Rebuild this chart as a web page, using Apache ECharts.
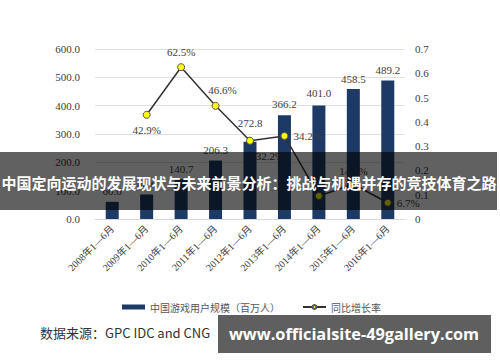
<!DOCTYPE html>
<html>
<head>
<meta charset="utf-8">
<script src="https://cdn.jsdelivr.net/npm/echarts@6/dist/echarts.min.js"></script>
<style>
html,body{margin:0;padding:0;background:#fff;}
#c{width:500px;height:362px;}
</style>
</head>
<body>
<div id="c"></div>
<script>
var categories = ['2008年1—6月','2009年1—6月','2010年1—6月','2011年1—6月','2012年1—6月','2013年1—6月','2014年1—6月','2015年1—6月','2016年1—6月'];
var users = [60.6, 86.6, 140.7, 206.3, 272.8, 366.2, 401.0, 458.5, 489.2];
var growth = [null, 0.429, 0.625, 0.466, 0.322, 0.342, 0.095, 0.143, 0.067];
var growthLabels = ['', '42.9%', '62.5%', '46.6%', '32.2%', '34.2%', '9.5%', '14.3%', '6.7%'];
var leftTicks = [0, 100, 200, 300, 400, 500, 600];
var rightTicks = [0, 0.1, 0.2, 0.3, 0.4, 0.5, 0.6, 0.7];
var seriesNames = ['中国游戏用户规模（百万人）', '同比增长率'];
var bannerTitle = '中国定向运动的发展现状与未来前景分析：挑战与机遇并存的竞技体育之路';
var sourceText = '数据来源：GPC IDC and CNG';
var watermark = 'www.officialsite-49gallery.com';

var serif = '"Liberation Serif","Noto Sans CJK SC",serif';
var labelPos = [
  null,
  {position:'bottom', distance:6},
  {position:'top', distance:6},
  {position:'top', distance:6, offset:[7,0]},
  {position:'bottom', distance:6, offset:[20,0]},
  {position:'right', distance:5},
  {position:'top', distance:4, offset:[10,0]},
  {position:'top', distance:4},
  {position:'right', distance:5}
];
var barLabelDist = [5, 5, 5, 5, 13, 6, 7, 5, 5];
var lineData = growth.map(function(v,i){
  if (v === null) return {value: null};
  var lp = labelPos[i];
  return {value: v, label: Object.assign({show:true, formatter: growthLabels[i]}, lp)};
});
var barData = users.map(function(v,i){
  return {value: v, label: {distance: barLabelDist[i]}};
});

var chart = echarts.init(document.getElementById('c'), null, {renderer:'svg'});
chart.setOption({
  animation:false,
  grid:{left:95, right:95, top:49, bottom:143},
  legend:{
    left:117, top:297,
    itemWidth:23, itemHeight:5, itemGap:22,
    textStyle:{fontSize:10, color:'#555', fontFamily:'"Noto Sans CJK SC",sans-serif'},
    data:[{name:seriesNames[0], icon:'rect'}, {name:seriesNames[1]}]
  },
  xAxis:{
    type:'category', data:categories,
    axisLine:{lineStyle:{color:'#d9d9d9'}},
    axisTick:{show:false},
    axisLabel:{rotate:45, fontSize:10, color:'#404040', fontFamily:serif, margin:8, interval:0}
  },
  yAxis:[
    {type:'value', min:0, max:600, interval:100,
     axisLine:{show:false}, axisTick:{show:false},
     splitLine:{lineStyle:{color:'#e0e0e0'}},
     axisLabel:{fontSize:11, color:'#404040', fontFamily:serif, margin:15,
       formatter:function(v){return v.toFixed(1);}}},
    {type:'value', min:0, max:0.7, interval:0.1,
     axisLine:{show:false}, axisTick:{show:false}, splitLine:{show:false},
     axisLabel:{fontSize:11, color:'#404040', fontFamily:serif, margin:10,
       formatter:function(v){return v===0?'0':v.toFixed(1);}}}
  ],
  series:[
    {name:seriesNames[0], type:'bar', data:barData, barWidth:13,
     itemStyle:{color:'#1d3a66'},
     label:{show:true, position:'top', distance:5, fontSize:11, color:'#404040', fontFamily:serif,
       formatter:function(p){return p.value.toFixed(1);}}},
    {name:seriesNames[1], type:'line', yAxisIndex:1, data:lineData,
     symbol:'circle', symbolSize:7, connectNulls:false,
     lineStyle:{color:'#333', width:1.5},
     itemStyle:{color:'#ffff00', borderColor:'#555', borderWidth:1},
     label:{fontSize:11, color:'#404040', fontFamily:serif}}
  ],
  graphic:[
    {type:'rect', z:100, shape:{x:0, y:152, width:497, height:58}, style:{fill:'rgba(0,0,0,0.62)'}},
    {type:'text', z:101, x:249, y:182, style:{text:bannerTitle, fill:'#fff', fontSize:15, fontWeight:'bold',
      fontFamily:'"Noto Sans CJK SC",sans-serif', align:'center', verticalAlign:'middle'}},
    {type:'text', z:100, x:40, y:332, style:{text:sourceText, fill:'#333', fontSize:13,
      fontFamily:'"Noto Sans CJK SC","Open Sans",sans-serif', verticalAlign:'middle'}},
    {type:'rect', z:100, shape:{x:218, y:315, width:273, height:38}, style:{fill:'#5f5f5f'}},
    {type:'text', z:101, x:354, y:334, style:{text:watermark, fill:'#fff', fontSize:16.3, fontWeight:'bold',
      fontFamily:'"Open Sans",sans-serif', align:'center', verticalAlign:'middle'}}
  ]
});
</script>
</body>
</html>
